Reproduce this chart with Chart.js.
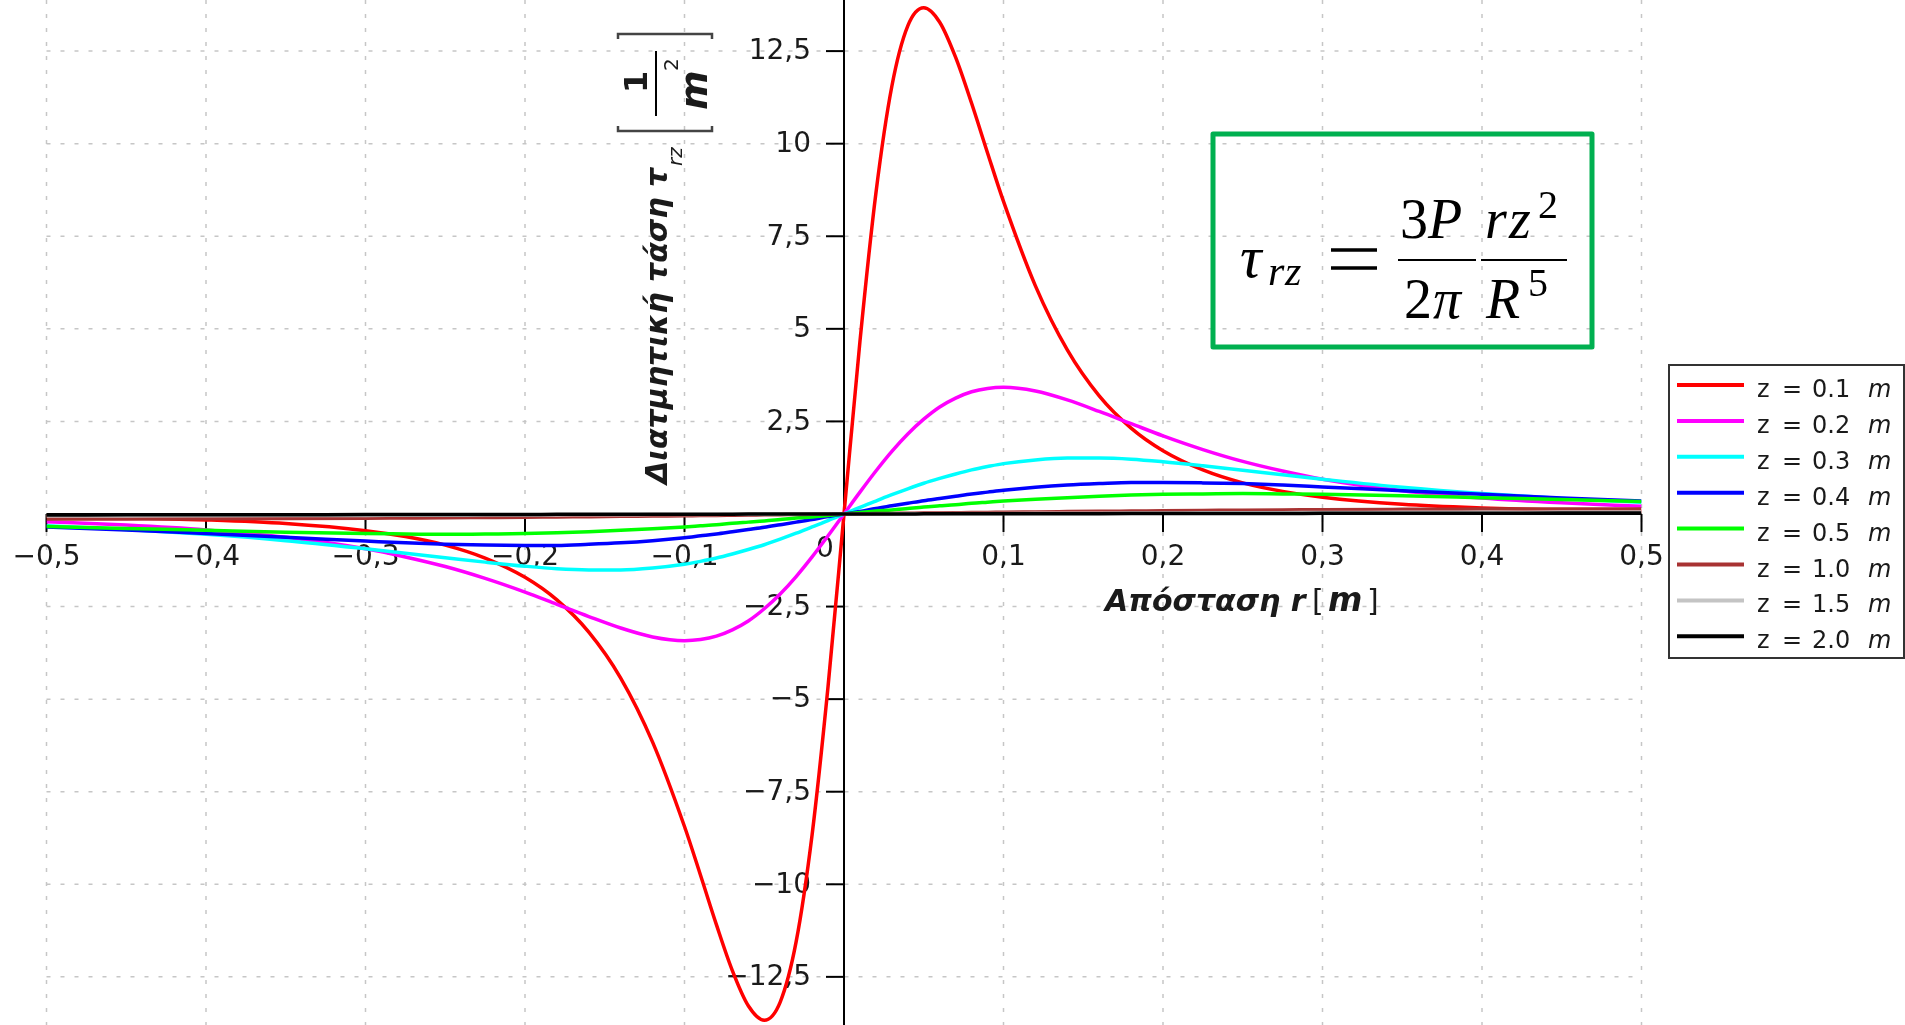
<!DOCTYPE html>
<html>
<head>
<meta charset="utf-8">
<script src="https://cdn.jsdelivr.net/npm/chart.js@4.4.1/dist/chart.umd.min.js"></script>
<style>
  html, body { margin: 0; padding: 0; background: #ffffff; overflow: hidden; }
  canvas { display: block; }
</style>
</head>
<body>
<canvas id="stressChart" width="1905" height="1025"></canvas>
<script>
// Radial distance r [m]
const radius = [-0.5, -0.45, -0.4, -0.35, -0.3, -0.275, -0.25, -0.225, -0.2, -0.18, -0.16, -0.14, -0.12, -0.1, -0.09, -0.08, -0.07, -0.06, -0.05, -0.04, -0.03, -0.02, -0.01,
  0,
  0.01, 0.02, 0.03, 0.04, 0.05, 0.06, 0.07, 0.08, 0.09, 0.1, 0.12, 0.14, 0.16, 0.18, 0.2, 0.225, 0.25, 0.275, 0.3, 0.35, 0.4, 0.45, 0.5];

// Shear stress tau_rz [1/m^2] for each depth z
const tauZ01 = [-0.07, -0.10, -0.16, -0.26, -0.45, -0.61, -0.84, -1.19, -1.71, -2.32, -3.19, -4.43, -6.16, -8.44, -9.75, -11.09, -12.33, -13.28, -13.67, -13.18, -11.55, -8.66, -4.66,
  0,
  4.66, 8.66, 11.55, 13.18, 13.67, 13.28, 12.33, 11.09, 9.75, 8.44, 6.16, 4.43, 3.19, 2.32, 1.71, 1.19, 0.84, 0.61, 0.45, 0.26, 0.16, 0.10, 0.07];
const tauZ02 = [-0.21, -0.30, -0.43, -0.63, -0.94, -1.16, -1.42, -1.74, -2.11, -2.44, -2.77, -3.08, -3.32, -3.42, -3.39, -3.30, -3.13, -2.89, -2.56, -2.16, -1.69, -1.16, -0.59,
  0,
  0.59, 1.16, 1.69, 2.16, 2.56, 2.89, 3.13, 3.30, 3.39, 3.42, 3.32, 3.08, 2.77, 2.44, 2.11, 1.74, 1.42, 1.16, 0.94, 0.63, 0.43, 0.30, 0.21];
const tauZ03 = [-0.32, -0.42, -0.55, -0.72, -0.94, -1.06, -1.18, -1.30, -1.41, -1.48, -1.51, -1.51, -1.46, -1.36, -1.28, -1.19, -1.08, -0.96, -0.83, -0.68, -0.52, -0.35, -0.18,
  0,
  0.18, 0.35, 0.52, 0.68, 0.83, 0.96, 1.08, 1.19, 1.28, 1.36, 1.46, 1.51, 1.51, 1.48, 1.41, 1.30, 1.18, 1.06, 0.94, 0.72, 0.55, 0.42, 0.32];
const tauZ04 = [-0.35, -0.43, -0.53, -0.63, -0.73, -0.78, -0.82, -0.84, -0.85, -0.85, -0.82, -0.78, -0.72, -0.64, -0.59, -0.54, -0.48, -0.42, -0.36, -0.29, -0.22, -0.15, -0.07,
  0,
  0.07, 0.15, 0.22, 0.29, 0.36, 0.42, 0.48, 0.54, 0.59, 0.64, 0.72, 0.78, 0.82, 0.85, 0.85, 0.84, 0.82, 0.78, 0.73, 0.63, 0.53, 0.43, 0.35];
const tauZ05 = [-0.34, -0.39, -0.44, -0.49, -0.53, -0.54, -0.55, -0.54, -0.53, -0.51, -0.48, -0.44, -0.40, -0.35, -0.32, -0.29, -0.25, -0.22, -0.19, -0.15, -0.11, -0.08, -0.04,
  0,
  0.04, 0.08, 0.11, 0.15, 0.19, 0.22, 0.25, 0.29, 0.32, 0.35, 0.40, 0.44, 0.48, 0.51, 0.53, 0.54, 0.55, 0.54, 0.53, 0.49, 0.44, 0.39, 0.34];
const tauZ10 = [-0.137, -0.136, -0.132, -0.125, -0.115, -0.109, -0.103, -0.095, -0.087, -0.079, -0.072, -0.064, -0.055, -0.047, -0.042, -0.038, -0.033, -0.028, -0.024, -0.019, -0.014, -0.010, -0.005,
  0,
  0.005, 0.010, 0.014, 0.019, 0.024, 0.028, 0.033, 0.038, 0.042, 0.047, 0.055, 0.064, 0.072, 0.079, 0.087, 0.095, 0.103, 0.109, 0.115, 0.125, 0.132, 0.136, 0.137];
const tauZ15 = [-0.0544, -0.0513, -0.0477, -0.0434, -0.0385, -0.0358, -0.0330, -0.0301, -0.0271, -0.0246, -0.0220, -0.0194, -0.0167, -0.0140, -0.0126, -0.0112, -0.0099, -0.0085, -0.0071, -0.0056, -0.0042, -0.0028, -0.0014,
  0,
  0.0014, 0.0028, 0.0042, 0.0056, 0.0071, 0.0085, 0.0099, 0.0112, 0.0126, 0.0140, 0.0167, 0.0194, 0.0220, 0.0246, 0.0271, 0.0301, 0.0330, 0.0358, 0.0385, 0.0434, 0.0477, 0.0513, 0.0544];
const tauZ20 = [-0.0256, -0.0237, -0.0216, -0.0194, -0.0169, -0.0157, -0.0144, -0.0130, -0.0116, -0.0105, -0.0094, -0.0083, -0.0071, -0.0059, -0.0053, -0.0048, -0.0042, -0.0036, -0.0030, -0.0024, -0.0018, -0.0012, -0.0006,
  0,
  0.0006, 0.0012, 0.0018, 0.0024, 0.0030, 0.0036, 0.0042, 0.0048, 0.0053, 0.0059, 0.0071, 0.0083, 0.0094, 0.0105, 0.0116, 0.0130, 0.0144, 0.0157, 0.0169, 0.0194, 0.0216, 0.0237, 0.0256];

// Depths shown in the legend
const depthLabels = ['0.1', '0.2', '0.3', '0.4', '0.5', '1.0', '1.5', '2.0'];

// Axis ticks
const xTickValues = [-0.5, -0.4, -0.3, -0.2, -0.1, 0, 0.1, 0.2, 0.3, 0.4, 0.5];
const xTickLabels = ['\u22120,5', '\u22120,4', '\u22120,3', '\u22120,2', '\u22120,1', '0', '0,1', '0,2', '0,3', '0,4', '0,5'];
const yTickValues = [-12.5, -10, -7.5, -5, -2.5, 2.5, 5, 7.5, 10, 12.5];
const yTickLabels = ['\u221212,5', '\u221210', '\u22127,5', '\u22125', '\u22122,5', '2,5', '5', '7,5', '10', '12,5'];

const seriesValues = [tauZ01, tauZ02, tauZ03, tauZ04, tauZ05, tauZ10, tauZ15, tauZ20];
const lineColors = ['#ff0000', '#ff00ff', '#00ffff', '#0000ff', '#00ff00', '#a83232', '#c4c4c4', '#000000'];

const datasets = seriesValues.map((vals, i) => ({
  label: 'z = ' + depthLabels[i] + ' m',
  data: radius.map((r, k) => ({ x: r, y: vals[k] })),
  borderColor: lineColors[i],
  borderWidth: 3.5,
  pointRadius: 0,
  fill: false,
  cubicInterpolationMode: 'monotone',
  order: seriesValues.length - 1 - i   // later depths are painted on top
}));

const TEXT = '#1a1a1a';

// Dotted grid, axes through the origin, ticks and axis titles
const centredAxes = {
  id: 'centredAxes',
  beforeDatasetsDraw(chart) {
    const { ctx, chartArea: a, scales: { x, y } } = chart;
    const x0 = x.getPixelForValue(0);
    const y0 = y.getPixelForValue(0);
    ctx.save();

    ctx.strokeStyle = '#c6c6c6';
    ctx.lineWidth = 1.5;
    ctx.setLineDash([4, 10]);
    xTickValues.forEach(v => {
      const px = x.getPixelForValue(v);
      ctx.beginPath(); ctx.moveTo(px, 0); ctx.lineTo(px, chart.height); ctx.stroke();
    });
    yTickValues.forEach(v => {
      const py = y.getPixelForValue(v);
      ctx.beginPath(); ctx.moveTo(a.left, py); ctx.lineTo(a.right, py); ctx.stroke();
    });
    ctx.setLineDash([]);

    ctx.strokeStyle = '#000';
    ctx.lineWidth = 2;
    ctx.beginPath(); ctx.moveTo(a.left, y0); ctx.lineTo(a.right, y0); ctx.stroke();
    ctx.beginPath(); ctx.moveTo(x0, 0); ctx.lineTo(x0, chart.height); ctx.stroke();

    // tick marks
    xTickValues.forEach(v => {
      if (v === 0) return;
      const px = x.getPixelForValue(v);
      ctx.beginPath(); ctx.moveTo(px, y0); ctx.lineTo(px, y0 + 18); ctx.stroke();
    });
    yTickValues.forEach(v => {
      const py = y.getPixelForValue(v);
      ctx.beginPath(); ctx.moveTo(x0 - 18, py); ctx.lineTo(x0, py); ctx.stroke();
    });

    // tick labels
    ctx.fillStyle = TEXT;
    ctx.font = '28px "DejaVu Sans"';
    ctx.textBaseline = 'middle';
    ctx.textAlign = 'center';
    xTickValues.forEach((v, i) => {
      const px = x.getPixelForValue(v);
      if (v === 0) ctx.fillText(xTickLabels[i], px - 19, y0 + 36);
      else ctx.fillText(xTickLabels[i], px, y0 + 44);
    });
    ctx.textAlign = 'right';
    yTickValues.forEach((v, i) => {
      ctx.fillText(yTickLabels[i], x0 - 33, y.getPixelForValue(v) + 1);
    });

    // horizontal axis title
    ctx.textAlign = 'left';
    ctx.textBaseline = 'alphabetic';
    const ty = y0 + 97;
    ctx.font = 'bold italic 30px "DejaVu Sans"';
    ctx.fillText('Απόσταση r', x0 + 261, ty);
    ctx.font = '30px "DejaVu Sans"';
    ctx.fillText('[', x0 + 468, ty);
    ctx.fillText(']', x0 + 523, ty);
    ctx.font = 'bold italic 33px "DejaVu Sans"';
    ctx.fillText('m', x0 + 484, ty);

    // vertical axis title, read bottom to top
    ctx.translate(x0 - 177, 484);
    ctx.rotate(-Math.PI / 2);
    ctx.font = 'bold italic 30px "DejaVu Sans"';
    const main = 'Διατμητική τάση τ';
    ctx.fillText(main, 0, 0);
    const u = ctx.measureText(main).width + 2;
    ctx.font = 'italic 20px "DejaVu Sans"';
    ctx.fillText('rz', u, 15);
    // unit in brackets: 1 / m^2
    const b0 = 353, bw = 97, bt = -49, bb = 45;
    ctx.strokeStyle = '#444';
    ctx.lineWidth = 2.5;
    ctx.beginPath();
    ctx.moveTo(b0 + 5, bt); ctx.lineTo(b0, bt); ctx.lineTo(b0, bb); ctx.lineTo(b0 + 5, bb);
    ctx.moveTo(b0 + bw - 5, bt); ctx.lineTo(b0 + bw, bt); ctx.lineTo(b0 + bw, bb); ctx.lineTo(b0 + bw - 5, bb);
    ctx.stroke();
    ctx.strokeStyle = '#000';
    ctx.lineWidth = 2;
    ctx.beginPath(); ctx.moveTo(b0 + 15, -11); ctx.lineTo(b0 + 80, -11); ctx.stroke();
    ctx.font = 'bold 32px "DejaVu Sans"';
    ctx.fillText('1', b0 + 38, -20);
    ctx.font = 'bold italic 38px "DejaVu Sans"';
    ctx.fillText('m', b0 + 21, 40);
    ctx.font = '20px "DejaVu Sans"';
    ctx.fillText('2', b0 + 60, 11);

    ctx.restore();
  }
};

// Framed legend and the formula box
const overlays = {
  id: 'overlays',
  afterDraw(chart) {
    const { ctx } = chart;
    ctx.save();

    // legend
    const lx = 1669, ly = 365, lw = 235, lh = 293;
    ctx.strokeStyle = '#333';
    ctx.lineWidth = 2;
    ctx.strokeRect(lx, ly, lw, lh);
    ctx.textBaseline = 'alphabetic';
    ctx.textAlign = 'left';
    chart.data.datasets.forEach((ds, i) => {
      const ry = 385 + i * 35.9;
      ctx.strokeStyle = ds.borderColor;
      ctx.lineWidth = 4;
      ctx.beginPath(); ctx.moveTo(lx + 8, ry); ctx.lineTo(lx + 75, ry); ctx.stroke();
      ctx.fillStyle = TEXT;
      ctx.font = '24px "DejaVu Sans"';
      ctx.fillText('z', lx + 88, ry + 12);
      ctx.fillText('=', lx + 113, ry + 12);
      ctx.fillText(depthLabels[i], lx + 143, ry + 12);
      ctx.font = 'italic 24px "DejaVu Sans"';
      ctx.fillText('m', lx + 199, ry + 12);
    });

    // formula box
    ctx.strokeStyle = '#00b050';
    ctx.lineWidth = 5;
    ctx.lineJoin = 'round';
    ctx.strokeRect(1213, 134, 379, 213);

    ctx.fillStyle = '#000';
    const it = s => 'italic ' + s + 'px "Liberation Serif"';
    const up = s => s + 'px "Liberation Serif"';
    ctx.font = it(60); ctx.fillText('τ', 1240, 277);
    ctx.font = it(42); ctx.fillText('r', 1268, 285); ctx.fillText('z', 1285, 285);
    ctx.lineWidth = 3.5; ctx.strokeStyle = '#000';
    ctx.beginPath();
    ctx.moveTo(1331, 250); ctx.lineTo(1377, 250);
    ctx.moveTo(1331, 268); ctx.lineTo(1377, 268);
    ctx.stroke();
    ctx.lineWidth = 2;
    ctx.beginPath();
    ctx.moveTo(1398, 260); ctx.lineTo(1476, 260);
    ctx.moveTo(1481, 260); ctx.lineTo(1567, 260);
    ctx.stroke();
    ctx.font = up(56); ctx.fillText('3', 1400, 238);
    ctx.font = it(56); ctx.fillText('P', 1428, 238);
    ctx.font = up(56); ctx.fillText('2', 1404, 318);
    ctx.font = it(56); ctx.fillText('π', 1433, 318);
    ctx.font = it(56); ctx.fillText('r', 1485, 238); ctx.fillText('z', 1509, 238);
    ctx.font = up(40); ctx.fillText('2', 1538, 218);
    ctx.font = it(56); ctx.fillText('R', 1486, 318);
    ctx.font = up(40); ctx.fillText('5', 1528, 296);

    ctx.restore();
  }
};

const chart = new Chart(document.getElementById('stressChart'), {
  type: 'line',
  data: { datasets },
  options: {
    responsive: false,
    animation: false,
    devicePixelRatio: 1,
    layout: { padding: { left: 46.5, right: 263.5, top: 0, bottom: 0 } },
    scales: {
      x: { type: 'linear', min: -0.5, max: 0.5, display: false },
      y: { type: 'linear', min: -13.80, max: 13.88, display: false }
    },
    plugins: {
      legend: { display: false },
      tooltip: { enabled: false }
    }
  },
  plugins: [centredAxes, overlays]
});
</script>
</body>
</html>
